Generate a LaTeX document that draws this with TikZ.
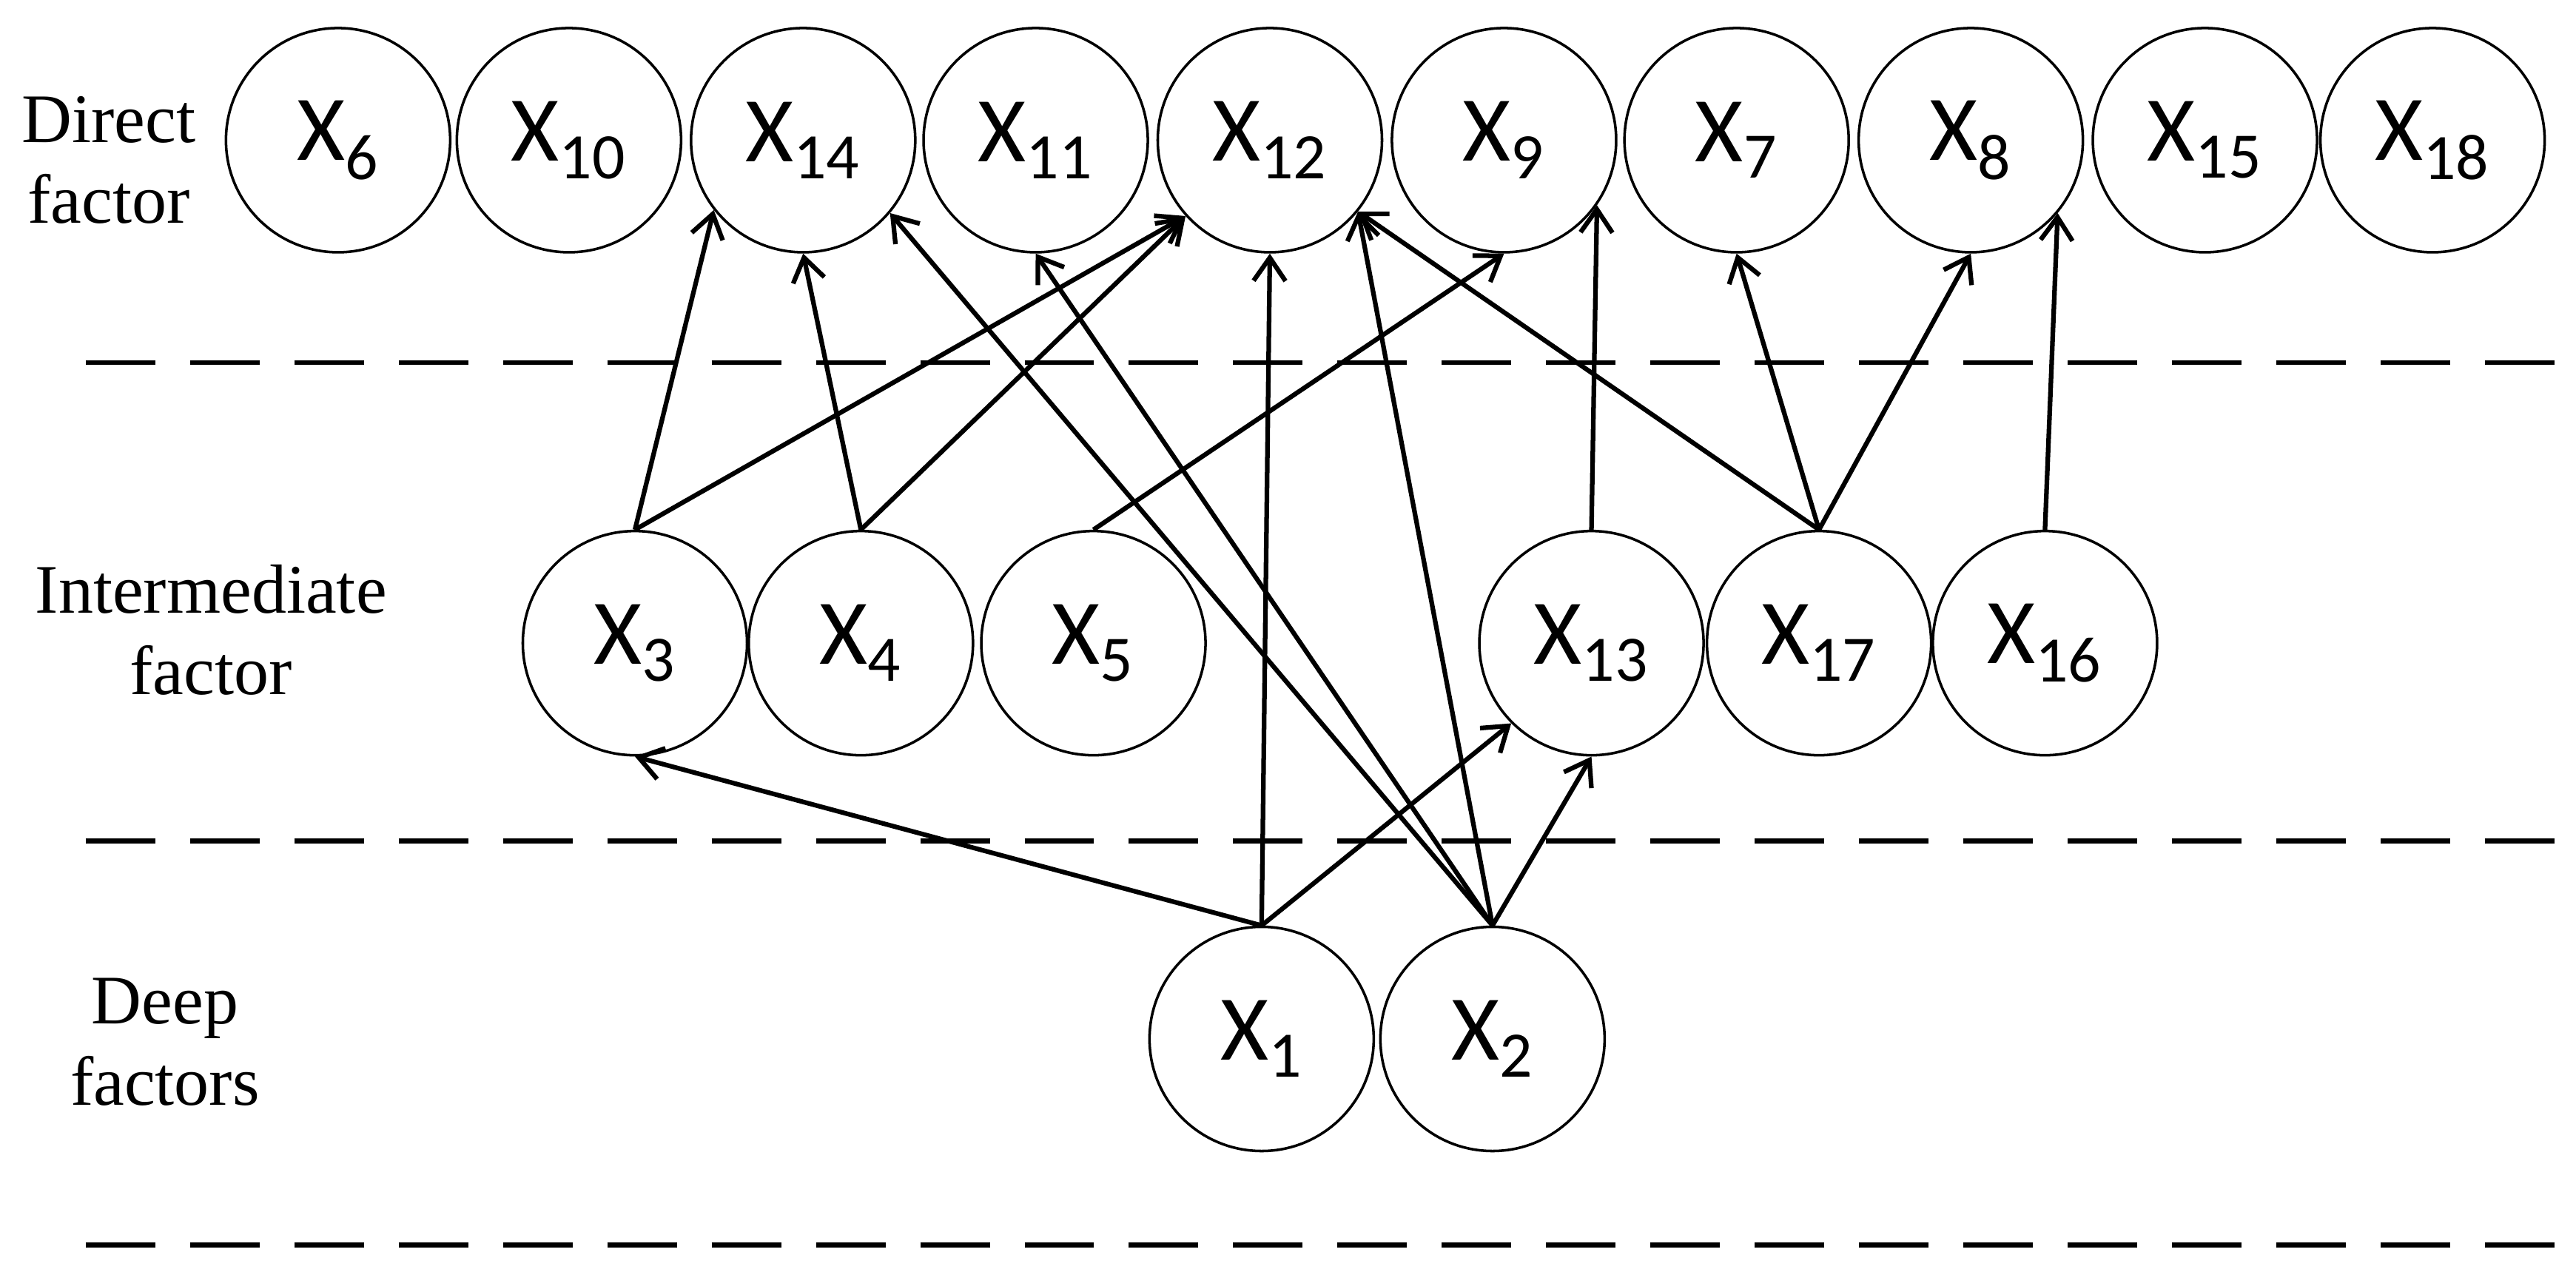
\documentclass[tikz,border=0pt]{standalone}
\usepackage{fontspec}
\usetikzlibrary{arrows.meta}
\setmainfont{Liberation Serif}
\newfontfamily\nodefont{Carlito}
\begin{document}
\begin{tikzpicture}[x=0.02cm,y=-0.02cm,
  f/.style={circle,draw,line width=0.9pt,minimum size=2.72cm,inner sep=0pt,font=\nodefont\fontsize{32}{34}\selectfont},
  e/.style={line width=1.6pt,-{Straight Barb[length=8pt,width=11pt]}},
  lab/.style={align=center,font=\fontsize{24}{28}\selectfont},
  dl/.style={line width=1.6pt,dash pattern=on 24pt off 12pt}]
\useasboundingbox (0,0) rectangle (1562,771);
\foreach \n/\x/\s in {x6/205/6,x10/345/10,x14/487/14,x11/628/11,x12/770/12,x9/912/9,x7/1053/7,x8/1195/8,x15/1337/15,x18/1475/18}
  \node[f] (\n) at (\x,85) {X\textsubscript{\s}};
\foreach \n/\x/\s in {x3/385/3,x4/522/4,x5/663/5,x13/965/13,x17/1103/17,x16/1240/16}
  \node[f] (\n) at (\x,390) {X\textsubscript{\s}};
\node[f] (x1) at (765,630) {X\textsubscript{1}};
\node[f] (x2) at (905,630) {X\textsubscript{2}};
\node[lab] (l1) at (66,97) {Direct\\factor};
\node[lab] (l2) at (128,382) {Intermediate\\factor};
\node[lab] (l3) at (100,632) {Deep\\factors};
\coordinate (a1) at (52,220); \coordinate (b1) at (1552,220);
\coordinate (a2) at (52,510); \coordinate (b2) at (1552,510);
\coordinate (a3) at (52,755); \coordinate (b3) at (1552,755);
\draw[dl] (a1)--(b1); \draw[dl] (a2)--(b2); \draw[dl] (a3)--(b3);
\draw[e] (x3.north) -- (x14.218);
\draw[e] (x3.north) -- (x12.222);
\draw[e] (x4.north) -- (x14.270);
\draw[e] (x4.north) -- (x12.222);
\draw[e] (x5.north) -- (x9.270);
\draw[e] (x13.north) -- (x9.325);
\draw[e] (x17.north) -- (x7.270);
\draw[e] (x17.north) -- (x8.270);
\draw[e] (x17.north) -- (x12.321);
\draw[e] (x16.north) -- (x8.320);
\draw[e] (x1.north) -- (x3.270);
\draw[e] (x1.north) -- (x12.270);
\draw[e] (x1.north) -- (x13.225);
\draw[e] (x2.north) -- (x14.320);
\draw[e] (x2.north) -- (x11.270);
\draw[e] (x2.north) -- (x12.321);
\draw[e] (x2.north) -- (x13.270);
\end{tikzpicture}
\end{document}
